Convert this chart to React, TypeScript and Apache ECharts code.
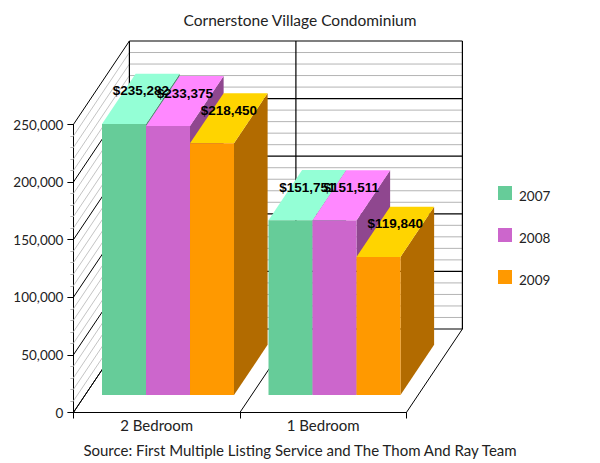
import React, { useEffect, useRef } from "react";
import * as echarts from "echarts";

const categories = ["2 Bedroom", "1 Bedroom"];
const years = ["2007", "2008", "2009"];
const values2007 = [235282, 151751];
const values2008 = [233375, 151511];
const values2009 = [218450, 119840];
const wallTicks = [0, 10000, 20000, 30000, 40000, 50000, 60000, 70000, 80000, 90000, 100000, 110000, 120000, 130000, 140000, 150000, 160000, 170000, 180000, 190000, 200000, 210000, 220000, 230000, 240000, 250000];
const frontColors = ["#66CC99", "#CC66CC", "#FF9900"];
const topColors = ["#94FFD6", "#FF88FF", "#FFD400"];
const sideColors = ["#478F6B", "#8F478F", "#B26B00"];

const FONT = "Lato";
const DX = 56;
const DY = -83.5;
const BAR_D = 0.21; // front of the bars, as a share of the depth
const BAR_B = 0.81; // back of the bars
const BAR_W = 44;

const series3 = [values2007, values2008, values2009];

function fmt(v: number) {
  return "$" + v.toLocaleString("en-US");
}

function barRender(idx: number) {
  return (params: any, api: any) => {
    const cat = api.value(0);
    const val = api.value(1);
    const p0 = api.coord([cat, 0]);
    const p1 = api.coord([cat, val]);
    const fx = DX * BAR_D - 0.4;
    const fy = DY * BAR_D;
    const bx = DX * (BAR_B - BAR_D);
    const by = DY * (BAR_B - BAR_D);
    const left = p0[0] + fx - BAR_W * 1.5 + idx * BAR_W;
    const right = left + BAR_W;
    const bottom = p0[1] + fy;
    const top = p1[1] + fy;
    return {
      type: "group",
      children: [
        {
          type: "polygon",
          shape: { points: [[right, bottom], [right + bx, bottom + by], [right + bx, top + by], [right, top]] },
          style: { fill: sideColors[idx] },
        },
        {
          type: "polygon",
          shape: { points: [[left, top], [right, top], [right + bx, top + by], [left + bx, top + by]] },
          style: { fill: topColors[idx] },
        },
        {
          type: "rect",
          shape: { x: left, y: top, width: BAR_W, height: bottom - top },
          style: { fill: frontColors[idx] },
        },
        {
          type: "text",
          z2: 100,
          style: {
            text: fmt(val),
            x: left + BAR_W / 2 + bx / 2,
            y: top + by / 2 - 8,
            align: "center",
            verticalAlign: "middle",
            fill: "#000",
            font: `bold 13.5px "Liberation Sans"`,
          },
        },
      ],
    };
  };
}

function wallRender(params: any, api: any) {
  const v = api.value(0);
  const cs = params.coordSys;
  const y = api.coord([0, v])[1];
  const major = v % 50000 === 0;
  const x0 = cs.x;
  const x1 = cs.x + cs.width;
  const color = major ? "#000" : "#B4B4B4";
  return {
    type: "group",
    children: [
      { type: "line", z2: major ? 2 : 1, shape: { x1: x0 + DX, y1: y + DY, x2: x1 + DX, y2: y + DY }, style: { stroke: color, lineWidth: major ? 1.2 : 1 } },
      { type: "line", z2: major ? 2 : 1, shape: { x1: x0, y1: y, x2: x0 + DX, y2: y + DY }, style: { stroke: major ? "#000" : "#C4C4C4", lineWidth: 1 } },
    ],
  };
}

function frameRender(params: any, api: any) {
  const i = api.value(0);
  const cs = params.coordSys;
  const x = cs.x + (cs.width * i) / categories.length;
  const yb = cs.y + cs.height;
  return {
    type: "group",
    children: [
      { type: "line", z2: 3, shape: { x1: x, y1: yb, x2: x + DX, y2: yb + DY }, style: { stroke: "#000", lineWidth: 1 } },
      { type: "line", z2: 3, shape: { x1: x + DX, y1: yb + DY, x2: x + DX, y2: cs.y + DY }, style: { stroke: "#000", lineWidth: 1.2 } },
    ],
  };
}

export default function App() {
  const ref = useRef<HTMLDivElement>(null);
  useEffect(() => {
    document.body.style.margin = "0";
    const chart = echarts.init(ref.current!, undefined, { renderer: "svg" });
    chart.setOption({
      animation: false,
      backgroundColor: "#fff",
      title: [
        { text: "Cornerstone Village Condominium", left: 295, top: 7, textAlign: "center", textStyle: { fontFamily: FONT, fontSize: 15.5, fontWeight: "normal", color: "#222" } },
        { text: "Source: First Multiple Listing Service and The Thom And Ray Team", left: 295, top: 437, textAlign: "center", textStyle: { fontFamily: FONT, fontSize: 15, fontWeight: "normal", color: "#222" } },
      ],
      legend: {
        orient: "vertical",
        left: 493,
        top: 181,
        itemWidth: 14,
        itemHeight: 14,
        itemGap: 25,
        data: years.map((name, i) => ({ name, icon: "rect", itemStyle: { color: frontColors[i] } })),
        formatter: "{t|{name}}",
        textStyle: {
          rich: { t: { fontFamily: FONT, fontSize: 13.5, color: "#222", padding: [6, 0, 0, 2] } },
        },
        selectedMode: false,
      },
      grid: { left: 73.4, right: 193.6, top: 124.5, bottom: 50.5 },
      xAxis: {
        type: "category",
        data: categories,
        axisLine: { lineStyle: { color: "#000", width: 1 } },
        axisTick: { show: true, length: 6, lineStyle: { color: "#000" } },
        axisLabel: { fontFamily: FONT, fontSize: 15, color: "#222", margin: 5 },
        splitLine: { show: false },
      },
      yAxis: {
        type: "value",
        min: 0,
        max: 250000,
        interval: 50000,
        axisLine: { show: true, lineStyle: { color: "#000", width: 1 } },
        axisTick: { show: true, length: 6, lineStyle: { color: "#000" } },
        minorTick: { show: true, splitNumber: 5, length: 3, lineStyle: { color: "#B4B4B4" } },
        splitLine: { show: false },
        minorSplitLine: { show: false },
        axisLabel: { fontFamily: FONT, fontSize: 13.5, color: "#222", margin: 10, formatter: (v: number) => v.toLocaleString("en-US") },
      },
      series: [
        { type: "custom", name: "wall", coordinateSystem: "cartesian2d", clip: false, silent: true, z: 1, data: wallTicks.map((v) => [v]), encode: { y: 0 }, renderItem: wallRender },
        { type: "custom", name: "frame", coordinateSystem: "cartesian2d", clip: false, silent: true, z: 1, data: [0, 1, 2].map((v) => [v]), encode: { x: 0 }, renderItem: frameRender },
        ...years.map((name, i) => ({
          type: "custom",
          name,
          coordinateSystem: "cartesian2d",
          clip: false,
          z: 2,
          itemStyle: { color: frontColors[i] },
          data: series3[i].map((v, c) => [c, v]),
          encode: { x: 0, y: 1 },
          renderItem: barRender(i),
        })),
      ],
    });
    return () => chart.dispose();
  }, []);
  return <div ref={ref} style={{ width: 600, height: 463 }} />;
}
